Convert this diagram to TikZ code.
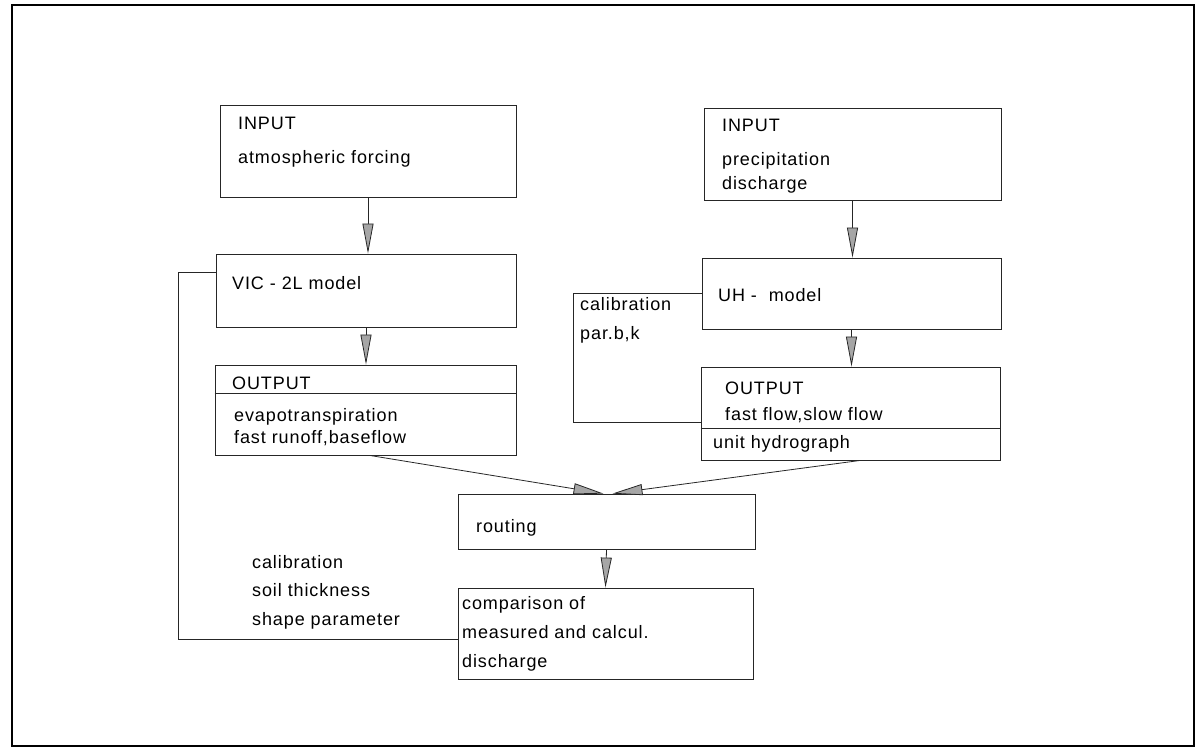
\documentclass[tikz,border=0pt]{standalone}
\usepackage{fontspec}
\setmainfont{Liberation Sans}[LetterSpace=5]
\usetikzlibrary{arrows.meta}

\begin{document}
\begin{tikzpicture}[x=1pt,y=-1pt,
  box/.style={draw=black!85, line width=0.8pt, inner sep=0pt},
  txt/.style={anchor=base west, inner sep=0pt, font=\fontsize{18}{21}\selectfont},
  flow/.style={draw=black!85, line width=0.8pt, -{Triangle[length=30pt,width=11pt,fill=black!35]}},
  link/.style={draw=black!85, line width=0.8pt}]
\useasboundingbox (0,0) rectangle (1197,751);
\draw[line width=2.5pt] (12,5) rectangle (1194,746);
% boxes
\node[box, minimum width=296, minimum height=92] (inl) at (368,151) {};
\node[box, minimum width=297, minimum height=92] (inr) at (852.5,154) {};
\node[box, minimum width=300, minimum height=73] (vic) at (366,290.5) {};
\node[box, minimum width=299, minimum height=71] (uh) at (851.5,293.5) {};
\node[box, minimum width=301, minimum height=90] (outl) at (365.5,410) {};
\node[box, minimum width=299, minimum height=93] (outr) at (850.5,413.5) {};
\node[box, minimum width=297, minimum height=55] (rout) at (606.5,521.5) {};
\node[box, minimum width=295, minimum height=91] (cmp) at (605.5,633.5) {};
\draw[link] (outl.west |- 0,393) -- (outl.east |- 0,393);
\draw[link] (outr.west |- 0,428) -- (outr.east |- 0,428);
% texts
\node[txt] (inl1) at (238,130) {INPUT};
\node[txt] (inl2) at (238,164) {atmospheric forcing};
\node[txt] (inr1) at (722,132) {INPUT};
\node[txt] (inr2) at (722,166) {precipitation};
\node[txt] (inr3) at (722,190) {discharge};
\node[txt] (vic1) at (232,290) {VIC - 2L model};
\node[txt] (uh1) at (718,302) {UH -\ \ model};
\node[txt] (outl1) at (232,389) {OUTPUT};
\node[txt] (outl2) at (234,421) {evapotranspiration};
\node[txt] (outl3) at (234,443) {fast runoff,baseflow};
\node[txt] (outr1) at (725,394) {OUTPUT};
\node[txt] (outr2) at (725,420) {fast flow,slow flow};
\node[txt] (outr3) at (713,448) {unit hydrograph};
\node[txt] (cal1) at (580,311) {calibration};
\node[txt] (cal2) at (580,340) {par.b,k};
\node[txt] (rout1) at (476,532) {routing};
\node[txt] (cal3) at (252,568) {calibration};
\node[txt] (cal4) at (252,596) {soil thickness};
\node[txt] (cal5) at (252,625) {shape parameter};
\node[txt] (cmp1) at (462,609) {comparison of};
\node[txt] (cmp2) at (462,638) {measured and calcul.};
\node[txt] (cmp3) at (462,667) {discharge};
% arrows
\draw[flow] (inl.south) -- (inl.south |- vic.north);
\draw[flow] (inr.south) -- (inr.south |- uh.north);
\draw[flow] (vic.south) -- (vic.south |- outl.north);
\draw[flow] (uh.south) -- (uh.south |- outr.north);
\draw[flow] ([xshift=4pt]outl.south) -- ([xshift=-3pt]rout.north);
\draw[flow] ([xshift=10pt]outr.south) -- ([xshift=6pt]rout.north);
\draw[flow] (rout.south) -- (cmp.north);
% calibration loops
\draw[link] (vic.west |- 0,272) -- (178,272) |- (cmp.west |- 0,639);
\draw[link] (uh.west) -- (573,293.5) |- (outr.west |- 0,422);
\end{tikzpicture}
\end{document}
